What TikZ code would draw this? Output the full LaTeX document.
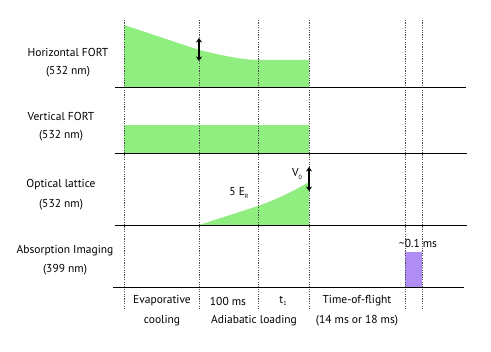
\documentclass[tikz,border=0pt]{standalone}
\usepackage{fontspec}
\setmainfont{PT Sans}
\usetikzlibrary{arrows.meta}
\definecolor{fortgreen}{RGB}{144,238,128}
\definecolor{imgpurple}{RGB}{176,140,245}
\newcommand{\tinysub}[1]{\raisebox{-2.5pt}{\fontsize{6}{7}\selectfont #1}}
\begin{document}
\begin{tikzpicture}[x=1pt,y=-1pt,
  lbl/.style={font=\fontsize{11.5}{13}\selectfont, inner sep=0pt, anchor=center},
  guide/.style={gray!60!black, line width=0.6pt, dash pattern=on 1.2pt off 1.2pt},
  baseline/.style={black, line width=0.9pt},
  dblarrow/.style={{Stealth[length=4.5pt,width=6pt]}-{Stealth[length=4.5pt,width=6pt]}, line width=1.3pt, black}]
\useasboundingbox (0,0) rectangle (491,352);
% fills
\fill[fortgreen] (124,87) -- (124,25) -- (199,50) .. controls (225,56) and (240,59.5) .. (258,60) -- (309,60) -- (309,87) -- cycle;
\fill[fortgreen] (124,125) rectangle (309,153);
\fill[fortgreen] (199,225) -- (258,206) .. controls (275,200) and (292,192) .. (309,182) -- (309,225) -- cycle;
\fill[imgpurple] (405,252) rectangle (422,287);
% guide lines
\foreach \n/\x in {ga/124,gb/199,gc/258,gd/309,ge/405,gf/422}{
  \coordinate (\n top) at (\x,20);
  \coordinate (\n bot) at (\x,309);
  \draw[guide] (\n top) -- (\n bot);
}
% baselines
\coordinate (b1l) at (115,87); \coordinate (b1r) at (466,87);
\coordinate (b2l) at (115,153); \coordinate (b2r) at (467,153);
\coordinate (b3l) at (115,225); \coordinate (b3r) at (467,225);
\coordinate (b4l) at (113,287); \coordinate (b4r) at (464,287);
\draw[baseline] (b1l) -- (b1r);
\draw[baseline] (b2l) -- (b2r);
\draw[baseline] (b3l) -- (b3r);
\draw[baseline] (b4l) -- (b4r);
% arrows
\coordinate (a1t) at (199,38); \coordinate (a1b) at (199,61);
\draw[dblarrow] (a1t) -- (a1b);
\coordinate (a2t) at (309,167); \coordinate (a2b) at (309,191);
\draw[dblarrow] (a2t) -- (a2b);
% row labels
\node[lbl] (hf1) at (68,52) {Horizontal FORT};
\node[lbl] (hf2) at (68,72) {(532 nm)};
\node[lbl] (vf1) at (61,116) {Vertical FORT};
\node[lbl] (vf2) at (61,136) {(532 nm)};
\node[lbl] (ol1) at (61,185) {Optical lattice};
\node[lbl] (ol2) at (61,205) {(532 nm)};
\node[lbl] (ai1) at (65,251) {Absorption Imaging};
\node[lbl] (ai2) at (65,270) {(399 nm)};
% annotations
\node[lbl] (v0) at (297,174) {V\tinysub{0}};
\node[lbl] (er) at (239,193) {5 E\tinysub{R}};
\node[lbl] (pulse) at (418,243) {\textasciitilde0.1 ms};
% time labels
\node[lbl] (ev1) at (162,301) {Evaporative};
\node[lbl] (ev2) at (162,321) {cooling};
\node[lbl] (t100) at (228,301) {100 ms};
\node[lbl] (adl) at (254,321) {Adiabatic loading};
\node[lbl] (t1) at (283,301) {t\tinysub{1}};
\node[lbl] (tof1) at (357,301) {Time-of-flight};
\node[lbl] (tof2) at (357,321) {(14 ms or 18 ms)};
\end{tikzpicture}
\end{document}
